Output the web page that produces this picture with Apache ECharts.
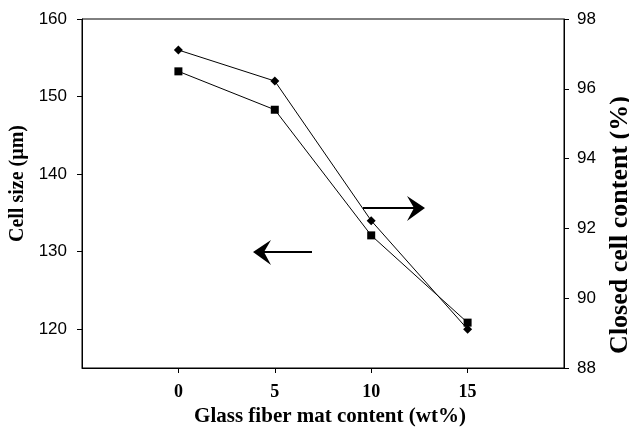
<!DOCTYPE html>
<html>
<head>
<meta charset="utf-8">
<script src="https://cdn.jsdelivr.net/npm/echarts@6/dist/echarts.min.js"></script>
<style>html,body{margin:0;padding:0;background:#fff}#c{width:629px;height:429px}</style>
</head>
<body>
<div id="c"></div>
<script>
var xValues = [0, 5, 10, 15];
var cellSize = [156, 152, 134, 120];
var closedCell = [96.5, 95.4, 91.8, 89.3];
var xTicks = [0, 5, 10, 15];
var leftTicks = [120, 130, 140, 150, 160];
var rightTicks = [88, 90, 92, 94, 96, 98];

function pairs(xs, ys) { return xs.map(function (x, i) { return [x, ys[i]]; }); }

var chart = echarts.init(document.getElementById('c'));
var serif = '"Liberation Serif", "Times New Roman", serif';
var narrow = '"Liberation Sans Narrow", "Arial Narrow", "Liberation Sans", Arial, sans-serif';
chart.setOption({
  animation: false,
  backgroundColor: '#fff',
  grid: { left: 82, right: 65, top: 19, bottom: 61, containLabel: false, outerBoundsMode: 'none', show: true, borderColor: '#000', borderWidth: 1, backgroundColor: 'transparent' },
  xAxis: {
    type: 'value', min: -5, max: 20,
    name: 'Glass fiber mat content (wt%)', nameLocation: 'middle', nameGap: 38,
    nameTextStyle: { fontFamily: serif, fontWeight: 'bold', fontSize: 21, color: '#000', padding: [0, 0, 0, 14] },
    axisLine: { onZero: false, lineStyle: { color: '#000', width: 1 } },
    axisTick: { inside: false, length: 5, lineStyle: { color: '#000' }, customValues: xTicks },
    axisLabel: { customValues: xTicks, margin: 15, fontFamily: serif, fontWeight: 'bold', fontSize: 18, color: '#000' },
    splitLine: { show: false }
  },
  yAxis: [{
    type: 'value', min: 115, max: 160, position: 'left',
    name: 'Cell size (µm)', nameLocation: 'middle', nameGap: 54, nameRotate: 90,
    nameTextStyle: { fontFamily: serif, fontWeight: 'bold', fontSize: 20, color: '#000', padding: [0, 0, 0, 20] },
    axisLine: { show: true, onZero: false, lineStyle: { color: '#000', width: 1 } },
    axisTick: { show: true, length: 5, lineStyle: { color: '#000' }, customValues: leftTicks },
    axisLabel: { customValues: leftTicks, margin: 15, fontFamily: narrow, fontSize: 17, color: '#000' },
    splitLine: { show: false }
  }, {
    type: 'value', min: 88, max: 98, interval: 2, position: 'right',
    name: 'Closed cell content (%)', nameLocation: 'middle', nameGap: 41, nameRotate: 90,
    nameTextStyle: { fontFamily: serif, fontWeight: 'bold', fontSize: 26, color: '#000', padding: [0, 63, 0, 0] },
    axisLine: { show: true, onZero: false, lineStyle: { color: '#000', width: 1 } },
    axisTick: { show: true, length: 5, lineStyle: { color: '#000' } },
    axisLabel: { margin: 13, fontFamily: narrow, fontSize: 17, color: '#000' },
    splitLine: { show: false }
  }],
  series: [{
    type: 'line', yAxisIndex: 0, data: pairs(xValues, cellSize),
    symbol: 'diamond', symbolSize: 9, showAllSymbol: true,
    lineStyle: { color: '#000', width: 1 }, itemStyle: { color: '#000' }
  }, {
    type: 'line', yAxisIndex: 1, data: pairs(xValues, closedCell),
    symbol: 'rect', symbolSize: 8, showAllSymbol: true,
    lineStyle: { color: '#000', width: 1 }, itemStyle: { color: '#000' }
  }],
  graphic: [
    { type: 'line', shape: { x1: 363, y1: 208, x2: 420, y2: 208 }, style: { stroke: '#000', lineWidth: 2 } },
    { type: 'polygon', shape: { points: [[407, 196], [425, 208], [407, 221], [414, 208]] }, style: { fill: '#000' } },
    { type: 'line', shape: { x1: 258, y1: 252, x2: 312, y2: 252 }, style: { stroke: '#000', lineWidth: 2 } },
    { type: 'polygon', shape: { points: [[271, 240], [253, 252], [271, 265], [264, 252]] }, style: { fill: '#000' } }
  ]
});
</script>
</body>
</html>
